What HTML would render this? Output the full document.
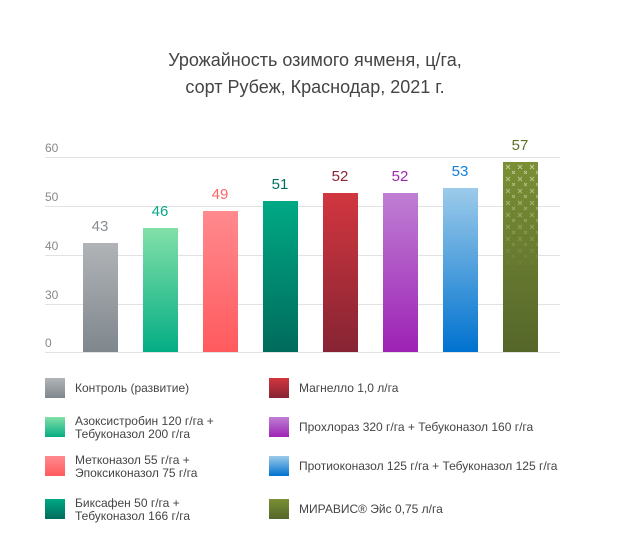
<!DOCTYPE html>
<html><head><meta charset="utf-8"><style>
body{margin:0;background:#fff;font-family:"Liberation Sans","DejaVu Sans",sans-serif;}
.w{position:relative;width:630px;height:556px;overflow:hidden}
.t{position:absolute;left:0;width:630px;text-align:center;font-size:18px;color:#444;line-height:27px;top:47px}
.g{position:absolute;left:45px;width:515px;height:1px;background:#e2e2e2}
.yl{position:absolute;left:45px;font-size:12px;color:#888}
.b{position:absolute;width:35px}
.v{position:absolute;width:60px;text-align:center;font-size:15px}
.sq{position:absolute;width:20px;height:20px}
.lt{position:absolute;font-size:12px;color:#444;line-height:13px}
</style></head><body><div class="w">
<div class="t">Урожайность озимого ячменя, ц/га,<br>сорт Рубеж, Краснодар, 2021 г.</div>
<div class="g" style="top:157px"></div><div class="g" style="top:206px"></div><div class="g" style="top:255px"></div><div class="g" style="top:304px"></div><div class="g" style="top:352px"></div>
<div class="yl" style="top:141px">60</div><div class="yl" style="top:190px">50</div><div class="yl" style="top:239px">40</div><div class="yl" style="top:288px">30</div><div class="yl" style="top:336px">0</div>

<div class="b" style="left:83px;top:243px;height:109px;background:linear-gradient(#b1b4b7,#7f878d)"></div>
<div class="b" style="left:143px;top:228px;height:124px;background:linear-gradient(#82e0a8,#04ad84)"></div>
<div class="b" style="left:203px;top:211px;height:141px;background:linear-gradient(#ff8a8e,#ff5a5e)"></div>
<div class="b" style="left:263px;top:201px;height:151px;background:linear-gradient(#00a985,#006b5c)"></div>
<div class="b" style="left:323px;top:193px;height:159px;background:linear-gradient(#d2363f,#862433)"></div>
<div class="b" style="left:383px;top:193px;height:159px;background:linear-gradient(#bf7fd4,#9d22b5)"></div>
<div class="b" style="left:443px;top:188px;height:164px;background:linear-gradient(#9ccbea,#0072cf)"></div>
<div class="b" style="left:503px;top:162px;height:190px;background:linear-gradient(#7a8f35,#55662a)"></div>
<svg style="position:absolute;left:503px;top:162px" width="35" height="110">
<defs><pattern id="p" width="12" height="12" patternUnits="userSpaceOnUse"><path d="M3 3l4 4M7 3l-4 4" stroke="#c8d4a0" stroke-width="1"/><path d="M9 9l3 3M12 9l-3 3" stroke="#c8d4a0" stroke-width="1"/></pattern>
<linearGradient id="f" x1="0" y1="0" x2="0" y2="1"><stop offset="0" stop-color="#fff" stop-opacity=".9"/><stop offset="1" stop-color="#fff" stop-opacity="0"/></linearGradient>
<mask id="m"><rect width="35" height="110" fill="url(#f)"/></mask></defs>
<rect width="35" height="110" fill="url(#p)" mask="url(#m)"/></svg>

<div class="v" style="left:70px;top:218px;color:#878e93">43</div>
<div class="v" style="left:130px;top:203px;color:#0aa888">46</div>
<div class="v" style="left:190px;top:186px;color:#ff6468">49</div>
<div class="v" style="left:250px;top:176px;color:#006f5e">51</div>
<div class="v" style="left:310px;top:168px;color:#8f2435">52</div>
<div class="v" style="left:370px;top:168px;color:#9c27b3">52</div>
<div class="v" style="left:430px;top:163px;color:#1480d8">53</div>
<div class="v" style="left:490px;top:137px;color:#5f6f2c">57</div>

<div class="sq" style="left:45px;top:378px;background:linear-gradient(#b1b4b7,#7f878d)"></div>
<div class="sq" style="left:45px;top:417px;background:linear-gradient(#82e0a8,#04ad84)"></div>
<div class="sq" style="left:45px;top:456px;background:linear-gradient(#ff8a8e,#ff5a5e)"></div>
<div class="sq" style="left:45px;top:499px;background:linear-gradient(#00a985,#006b5c)"></div>
<div class="sq" style="left:269px;top:378px;background:linear-gradient(#d2363f,#862433)"></div>
<div class="sq" style="left:269px;top:417px;background:linear-gradient(#bf7fd4,#9d22b5)"></div>
<div class="sq" style="left:269px;top:456px;background:linear-gradient(#9ccbea,#0072cf)"></div>
<div class="sq" style="left:269px;top:499px;background:linear-gradient(#7a8f35,#55662a)"></div>

<div class="lt" style="left:75px;top:382px">Контроль (развитие)</div>
<div class="lt" style="left:75px;top:415px">Азоксистробин 120 г/га +<br>Тебуконазол 200 г/га</div>
<div class="lt" style="left:75px;top:454px">Метконазол 55 г/га +<br>Эпоксиконазол 75 г/га</div>
<div class="lt" style="left:75px;top:497px">Биксафен 50 г/га +<br>Тебуконазол 166 г/га</div>
<div class="lt" style="left:299px;top:382px">Магнелло 1,0 л/га</div>
<div class="lt" style="left:299px;top:421px">Прохлораз 320 г/га + Тебуконазол 160 г/га</div>
<div class="lt" style="left:299px;top:460px">Протиоконазол 125 г/га + Тебуконазол 125 г/га</div>
<div class="lt" style="left:299px;top:503px">МИРАВИС® Эйс 0,75 л/га</div>
</div></body></html>
